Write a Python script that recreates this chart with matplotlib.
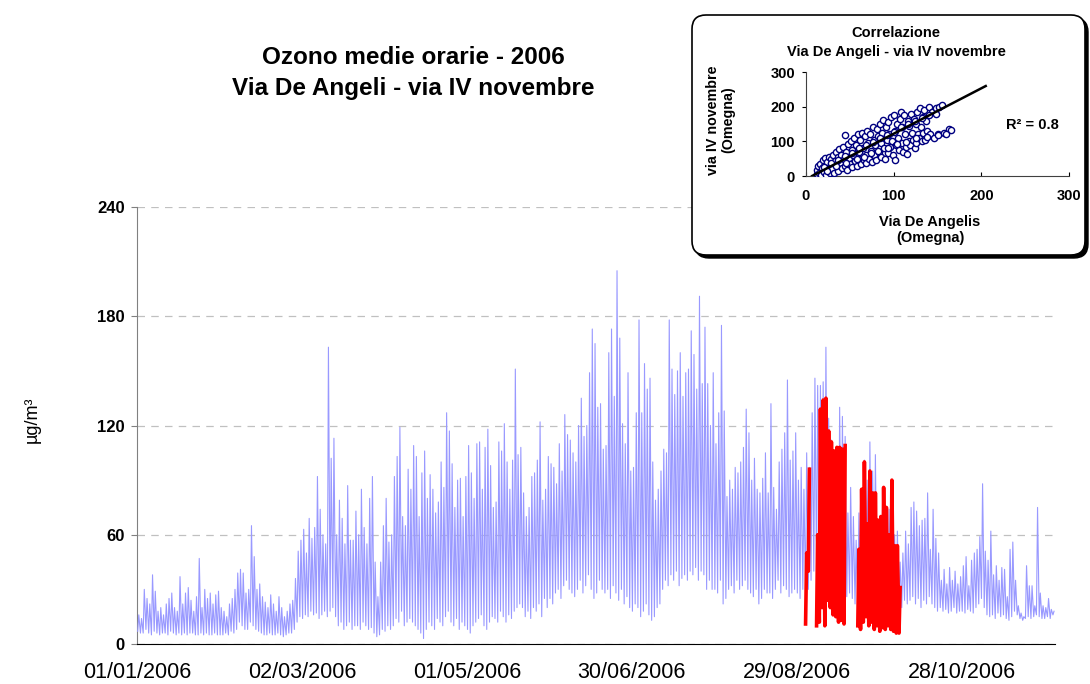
import matplotlib
matplotlib.use("Agg")
import matplotlib.pyplot as plt
import numpy as np
from matplotlib.patches import FancyBboxPatch

plt.rcParams["font.family"] = ["Liberation Sans", "DejaVu Sans"]

BLUE = "#9999FF"
RED = "#FF0000"
NAVY = "#000080"
GRID = "#C0C0C0"

# daily peaks / troughs of the hourly ozone series, Via De Angeli (from 01/01/2006)
blue_max = [
    16, 14, 30, 25, 22, 38, 29, 18, 20, 16,
    22, 25, 28, 20, 18, 37, 22, 28, 31, 24,
    18, 26, 47, 20, 30, 25, 28, 22, 27, 29,
    20, 18, 15, 22, 25, 30, 39, 41, 39, 28,
    30, 65, 48, 30, 33, 26, 23, 20, 27, 22,
    18, 26, 20, 15, 18, 22, 24, 36, 51, 57,
    63, 50, 69, 58, 64, 92, 74, 60, 55, 163,
    102, 113, 60, 79, 69, 55, 87, 57, 57, 73,
    60, 85, 64, 55, 80, 92, 45, 26, 45, 65,
    80, 56, 60, 92, 103, 119, 70, 65, 96, 85,
    109, 103, 70, 94, 106, 80, 93, 85, 72, 78,
    100, 86, 127, 117, 99, 75, 90, 91, 70, 92,
    109, 94, 80, 110, 111, 85, 108, 118, 98, 75,
    78, 111, 106, 121, 100, 85, 101, 151, 104, 108,
    83, 70, 75, 92, 94, 101, 122, 79, 85, 103,
    99, 97, 88, 110, 95, 126, 115, 112, 105, 100,
    120, 135, 114, 120, 149, 173, 165, 130, 132, 107,
    109, 160, 173, 136, 205, 168, 121, 110, 149, 95,
    97, 127, 178, 127, 154, 140, 146, 100, 79, 85,
    95, 107, 105, 178, 151, 137, 150, 160, 136, 149,
    151, 172, 159, 140, 191, 143, 174, 143, 120, 149,
    110, 127, 175, 128, 81, 90, 85, 97, 94, 100,
    108, 129, 116, 90, 102, 85, 83, 91, 105, 83,
    132, 86, 74, 100, 107, 116, 145, 101, 106, 116,
    90, 97, 85, 105, 97, 127, 146, 142, 142, 144,
    163, 124, 112, 100, 105, 130, 125, 114, 72, 86,
    70, 57, 72, 80, 101, 90, 111, 95, 104, 55,
    60, 74, 65, 74, 68, 60, 62, 45, 50, 62,
    55, 75, 78, 73, 65, 68, 69, 83, 52, 74,
    58, 50, 35, 41, 33, 42, 35, 40, 33, 37,
    43, 48, 32, 46, 50, 52, 59, 88, 51, 46,
    62, 38, 43, 35, 42, 41, 26, 52, 56, 35,
    21, 17, 15, 43, 32, 32, 21, 75, 28, 21,
    20, 25, 19, 18,
]
blue_min = [
    7, 6, 6, 8, 6, 5, 7, 6, 5, 6,
    6, 5, 7, 6, 5, 6, 5, 6, 5, 6,
    6, 5, 5, 6, 5, 6, 5, 5, 6, 5,
    5, 5, 6, 5, 7, 6, 8, 12, 10, 8,
    8, 12, 10, 8, 7, 6, 5, 5, 6, 5,
    5, 6, 5, 4, 5, 6, 6, 8, 12, 15,
    14, 16, 15, 18, 16, 17, 14, 16, 18, 15,
    18, 20, 15, 10, 12, 8, 10, 12, 8, 10,
    10, 8, 12, 10, 8, 9, 6, 4, 5, 8,
    7, 10, 8, 10, 14, 12, 18, 10, 12, 14,
    12, 10, 8, 6, 3, 8, 12, 10, 8, 14,
    12, 10, 15, 18, 12, 10, 14, 8, 12, 10,
    8, 6, 10, 12, 14, 16, 10, 8, 12, 15,
    14, 12, 18, 15, 12, 16, 14, 18, 20, 22,
    20, 15, 18, 14, 20, 18, 22, 15, 25, 20,
    25, 22, 28, 30, 25, 32, 35, 30, 28, 26,
    30, 35, 28, 32, 38, 30, 25, 28, 35, 30,
    28, 30, 25, 32, 28, 24, 30, 22, 26, 20,
    18, 22, 20, 15, 18, 22, 16, 13, 15, 20,
    22, 30, 35, 32, 38, 35, 40, 32, 36, 38,
    35, 40, 38, 42, 35, 40, 38, 30, 35, 30,
    30, 28, 35, 22, 25, 30, 32, 28, 35, 30,
    32, 35, 30, 28, 26, 30, 22, 25, 30, 28,
    28, 25, 30, 35, 28, 32, 30, 26, 28, 30,
    28, 25, 30, 28, 30, 35, 40, 38, 36, 38,
    35, 32, 30, 28, 35, 30, 28, 30, 26, 28,
    25, 22, 20, 18, 22, 24, 20, 18, 22, 20,
    18, 20, 16, 18, 15, 18, 20, 22, 20, 24,
    22, 24, 26, 22, 25, 20, 24, 22, 26, 22,
    20, 18, 20, 18, 19, 17, 18, 20, 17, 18,
    18, 17, 19, 18, 17, 20, 22, 25, 20, 16,
    15, 16, 14, 17, 15, 16, 14, 13, 15, 18,
    16, 14, 13, 14, 15, 14, 15, 16, 15, 14,
    14, 15, 14, 16,
]

# second station, only available Sept-Oct (day 243 onward), nan = missing
red_first_day = 243
red_max = [50, 96, np.nan, np.nan, 60, 129, 134, 135, 117, 111, 106, 108, 108, 107, 109,
           np.nan, np.nan, np.nan, np.nan, 52, 85, 100, 66, 95, 83, 83, 68, 70, 86, 75,
           60, 90, 54, 54, 31]
red_min = [11, 40, np.nan, np.nan, 10, 12, 20, 10, 24, 20, 16, 15, 12, 13, 11,
           np.nan, np.nan, np.nan, np.nan, 10, 8, 12, 15, 10, 12, 8, 10, 7, 9, 8,
           10, 8, 7, 6, 6]

tick_days = [0, 60, 120, 180, 240, 300]
tick_labels = ["01/01/2006", "02/03/2006", "01/05/2006", "30/06/2006",
               "29/08/2006", "28/10/2006"]
y_ticks = [0, 60, 120, 180, 240]

# inset scatter: Via De Angelis (x) vs via IV novembre (y)
scatter_x = [12, 13, 14, 15, 16, 17, 18, 19, 20, 21, 22, 23, 24, 25, 26, 27, 28, 29, 30, 31,
             32, 33, 34, 35, 36, 37, 38, 39, 40, 41, 42, 43, 44, 45, 46, 47, 48, 49, 50,
             51, 52, 53, 54, 55, 56, 57, 58, 59, 60, 61, 62, 63, 64, 65, 66, 67, 68, 69, 70,
             71, 72, 73, 74, 75, 76, 77, 78, 79, 80, 81, 82, 83, 84, 85, 86, 87, 88, 89, 90,
             91, 92, 93, 94, 95, 96, 97, 98, 99, 100, 101, 102, 103, 104, 105, 106, 107, 108, 109, 110,
             111, 112, 113, 114, 115, 116, 117, 118, 119, 120, 121, 122, 123, 124, 125, 126, 127, 128, 129, 130,
             131, 132, 133, 134, 135, 136, 137, 138, 139, 140, 142, 144, 146, 148, 150, 152, 155, 157, 163, 165,
             20, 28, 36, 44, 52, 60, 68, 76, 84, 92, 100, 108, 116, 124, 132, 140, 148,
             24, 34, 46, 58, 66, 74, 82, 94, 104, 114, 126, 138, 150, 160]
scatter_y = [5, 18, 28, 10, 35, 2, 22, 45, 12, 30, 52, 4, 40, 18, 55, 8, 34, 48, 20, 62,
             10, 42, 70, 28, 55, 15, 78, 38, 62, 22, 85, 48, 30, 118, 68, 18, 92, 52, 35,
             100, 75, 25, 60, 110, 42, 88, 30, 120, 70, 50, 105, 35, 125, 82, 45, 115, 60, 38, 130,
             95, 50, 120, 72, 40, 140, 105, 60, 88, 45, 135, 115, 70, 150, 95, 55, 125, 162, 80, 50,
             140, 105, 65, 155, 120, 85, 170, 100, 60, 175, 130, 45, 90, 150, 110, 75, 165, 186, 95, 140,
             70, 175, 120, 85, 63, 160, 100, 145, 90, 180, 125, 105, 165, 80, 150, 95, 185, 120, 110, 195,
             140, 100, 170, 125, 190, 105, 160, 130, 115, 200, 120, 185, 110, 195, 120, 200, 205, 125, 135, 132,
             25, 38, 45, 58, 65, 80, 88, 98, 110, 118, 128, 140, 150, 160, 168, 175, 180,
             15, 30, 38, 48, 55, 65, 72, 80, 92, 98, 110, 112, 118, 122]
fit_slope = 1.31
fit_intercept = -9.0
fit_x = [7, 205]
r2_text = "R² = 0.8"

fig = plt.figure(figsize=(10.9, 6.84), dpi=100)
fig.patch.set_facecolor("white")

# ---- main chart ----
ax = fig.add_axes([137 / 1090, 40 / 684, 918 / 1090, 437 / 684], zorder=1)

days = np.arange(len(blue_max))
t_blue = np.empty(2 * len(days))
v_blue = np.empty(2 * len(days))
t_blue[0::2] = days + 0.25
t_blue[1::2] = days + 0.65
v_blue[0::2] = blue_min
v_blue[1::2] = blue_max
ax.plot(t_blue, v_blue, color=BLUE, lw=0.8, zorder=3)

rdays = red_first_day + np.arange(len(red_max))
t_red = np.empty(2 * len(rdays))
v_red = np.empty(2 * len(rdays))
t_red[0::2] = rdays + 0.25
t_red[1::2] = rdays + 0.65
v_red[0::2] = red_min
v_red[1::2] = red_max
ax.plot(t_red, v_red, color=RED, lw=2.6, zorder=4)

ax.set_xlim(0, len(blue_max))
ax.set_ylim(0, 240)
ax.set_yticks(y_ticks)
ax.set_xticks(tick_days)
ax.set_xticklabels(tick_labels)
ax.yaxis.grid(True, ls=(0, (6, 5)), color=GRID, lw=0.9)
ax.set_axisbelow(True)
ax.tick_params(axis="x", length=0, pad=13, labelsize=15.5)
ax.tick_params(axis="y", length=4, direction="out", color="#808080", labelsize=12, pad=5)
for lbl in ax.get_yticklabels():
    lbl.set_fontweight("bold")
for s in ("top", "right"):
    ax.spines[s].set_visible(False)
ax.spines["left"].set_color("#808080")
ax.spines["bottom"].set_color("black")

fig.text(413 / 1090, 1 - 57 / 684, "Ozono medie orarie - 2006", ha="center",
         va="center", fontsize=17.5, fontweight="bold")
fig.text(413 / 1090, 1 - 89 / 684, "Via De Angeli - via IV novembre", ha="center",
         va="center", fontsize=17.5, fontweight="bold")
fig.text(32 / 1090, 1 - 420 / 684, "µg/m³", rotation=90, ha="center",
         va="center", fontsize=13)

# ---- inset frame (pixel coords) ----
ov = fig.add_axes([0, 0, 1, 1], zorder=2)
ov.set_xlim(0, 1090)
ov.set_ylim(684, 0)
ov.axis("off")
ov.patch.set_alpha(0)
ov.add_patch(FancyBboxPatch((695, 18), 393, 240, boxstyle="round,pad=0,rounding_size=14",
                            fc="black", ec="black", lw=1))
ov.add_patch(FancyBboxPatch((692, 15), 393, 240, boxstyle="round,pad=0,rounding_size=14",
                            fc="white", ec="black", lw=1.2))
ov.text(896, 33, "Correlazione", ha="center", va="center", fontsize=10.5, fontweight="bold")
ov.text(896, 52, "Via De Angeli - via IV novembre", ha="center", va="center",
        fontsize=10.5, fontweight="bold")
ov.text(721, 120, "via IV novembre\n(Omegna)", rotation=90, ha="center", va="center",
        fontsize=10.3, fontweight="bold", multialignment="center", linespacing=1.1)
ov.text(930, 230, "Via De Angelis\n(Omegna)", ha="center", va="center",
        fontsize=10.5, fontweight="bold", multialignment="center", linespacing=1.15)
ov.text(1032, 125, r2_text, ha="center", va="center", fontsize=10.5, fontweight="bold")

# ---- inset scatter ----
ax2 = fig.add_axes([806 / 1090, (684 - 176) / 684, 263 / 1090, 104 / 684], zorder=3)
ax2.patch.set_alpha(0)
ax2.scatter(scatter_x, scatter_y, s=20, facecolors="white", edgecolors=NAVY, lw=1.0, zorder=3)
fx = np.array(fit_x)
ax2.plot(fx, fit_slope * fx + fit_intercept, color="black", lw=1.8, zorder=4)
ax2.set_xlim(0, 300)
ax2.set_ylim(0, 300)
ax2.set_xticks([0, 100, 200, 300])
ax2.set_yticks([0, 100, 200, 300])
ax2.tick_params(axis="x", direction="in", length=3, labelsize=10.5, pad=9)
ax2.tick_params(axis="y", direction="out", length=3, labelsize=10.5, pad=5)
for lbl in ax2.get_xticklabels() + ax2.get_yticklabels():
    lbl.set_fontweight("bold")
for s in ("top", "right"):
    ax2.spines[s].set_visible(False)
ax2.spines["left"].set_color("#404040")
ax2.spines["bottom"].set_color("#404040")

fig.savefig("out.png", dpi=100)
